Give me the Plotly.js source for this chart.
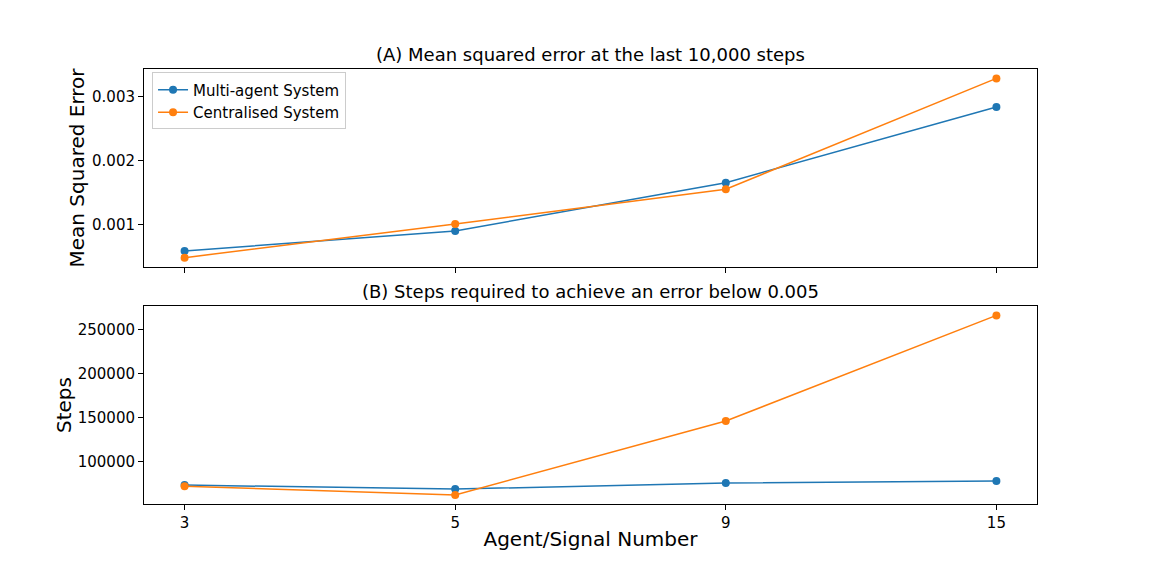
<!DOCTYPE html>
<html>
<head>
<meta charset="utf-8">
<script src="https://cdn.plot.ly/plotly-3.0.1.min.js"></script>
<style>
  body { margin: 0; background: #fff; }
  #chart { width: 1152px; height: 576px; }
</style>
</head>
<body>
<div id="chart"></div>
<script>
// agent / signal counts on the shared x axis
var agentNumbers = ['3', '5', '9', '15'];

// (A) mean squared error over the last 10,000 steps
var mseMultiAgent = [0.000583, 0.000895, 0.00165, 0.002833];
var mseCentralised = [0.000478, 0.001005, 0.001547, 0.00328];

// (B) steps needed to get the error below 0.005
var stepsMultiAgent = [73000, 68500, 75300, 77600];
var stepsCentralised = [71600, 61700, 145800, 265900];

var blue = '#1f77b4';
var orange = '#ff7f0e';
var font = 'DejaVu Sans, sans-serif';

function series(y, name, color, yaxis, showlegend) {
  return {
    x: agentNumbers,
    y: y,
    name: name,
    yaxis: yaxis,
    xaxis: yaxis == 'y' ? 'x' : 'x2',
    type: 'scatter',
    mode: 'lines+markers',
    line: { color: color, width: 1.5 },
    marker: { color: color, size: 8 },
    showlegend: showlegend
  };
}

var data = [
  series(mseMultiAgent, 'Multi-agent System', blue, 'y', true),
  series(mseCentralised, 'Centralised System', orange, 'y', true),
  series(stepsMultiAgent, 'Multi-agent System', blue, 'y2', false),
  series(stepsCentralised, 'Centralised System', orange, 'y2', false)
];

var axisStyle = {
  showline: true,
  mirror: true,
  linecolor: '#000',
  linewidth: 1,
  ticks: 'outside',
  ticklen: 5,
  tickcolor: '#000',
  showgrid: false,
  zeroline: false,
  tickfont: { family: font, size: 15, color: '#000' }
};

var layout = {
  width: 1152,
  height: 576,
  margin: { l: 144, r: 115, t: 69, b: 72 },
  paper_bgcolor: '#fff',
  plot_bgcolor: '#fff',
  font: { family: font, color: '#000' },
  showlegend: true,
  legend: {
    x: 0.009, y: 0.992, xanchor: 'left', yanchor: 'top',
    bgcolor: '#fff', bordercolor: '#ccc', borderwidth: 1,
    font: { family: font, size: 15, color: '#000' }
  },
  xaxis: Object.assign({}, axisStyle, {
    type: 'category', range: [-0.15, 3.15], anchor: 'y',
    showticklabels: false
  }),
  yaxis: Object.assign({}, axisStyle, {
    domain: [0.545, 1], range: [0.000333, 0.003427], anchor: 'x',
    tickvals: [0.001, 0.002, 0.003], ticktext: ['0.001', '0.002', '0.003'],
    title: { text: 'Mean Squared Error', font: { family: font, size: 20 }, standoff: 2 }
  }),
  xaxis2: Object.assign({}, axisStyle, {
    type: 'category', range: [-0.15, 3.15], anchor: 'y2',
    title: { text: 'Agent/Signal Number', font: { family: font, size: 20 }, standoff: 0 }
  }),
  yaxis2: Object.assign({}, axisStyle, {
    domain: [0, 0.455], range: [51500, 276500], anchor: 'x2',
    tickvals: [100000, 150000, 200000, 250000],
    ticktext: ['100000', '150000', '200000', '250000'],
    title: { text: 'Steps', font: { family: font, size: 20 }, standoff: 0 }
  }),
  annotations: [
    {
      text: '(A) Mean squared error at the last 10,000 steps',
      xref: 'paper', yref: 'paper', x: 0.5, y: 1, yanchor: 'bottom', yshift: 2,
      showarrow: false, font: { family: font, size: 18, color: '#000' }
    },
    {
      text: '(B) Steps required to achieve an error below 0.005',
      xref: 'paper', yref: 'paper', x: 0.5, y: 0.455, yanchor: 'bottom', yshift: 2,
      showarrow: false, font: { family: font, size: 18, color: '#000' }
    }
  ]
};

Plotly.newPlot('chart', data, layout, { displayModeBar: false, staticPlot: true });
</script>
</body>
</html>
